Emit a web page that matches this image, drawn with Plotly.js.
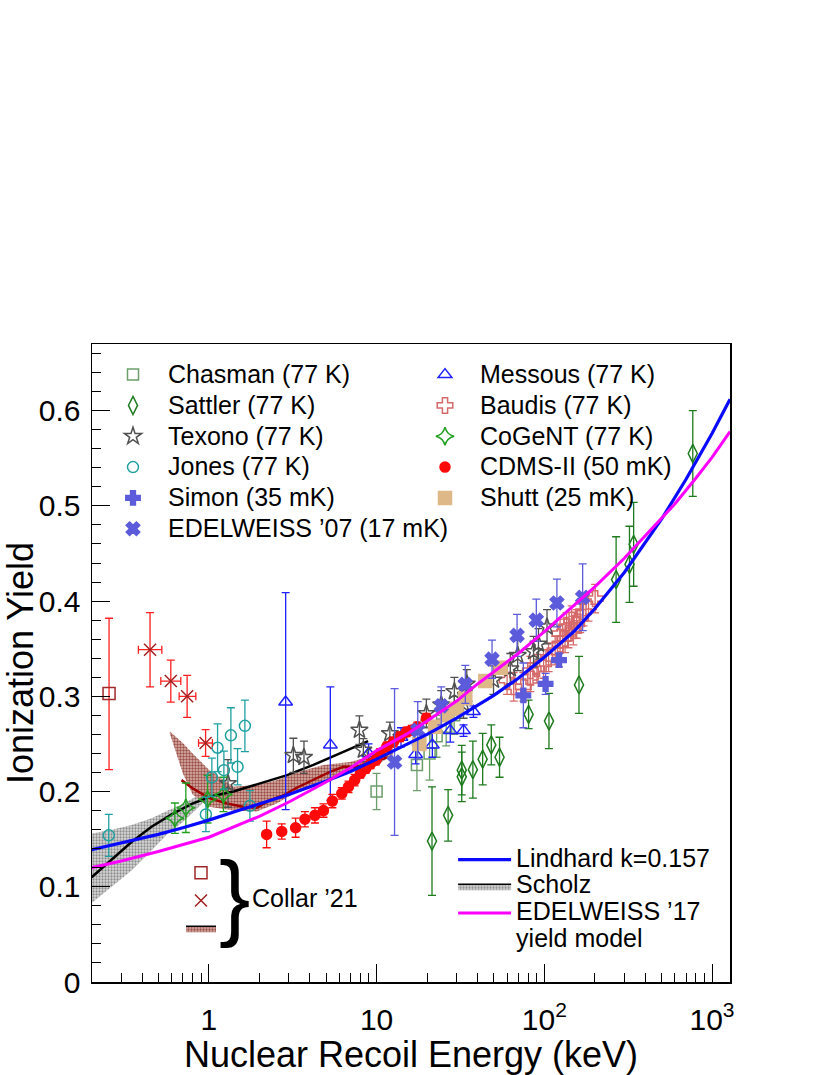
<!DOCTYPE html>
<html>
<head>
<meta charset="utf-8">
<script src="https://cdn.plot.ly/plotly-3.0.1.min.js"></script>
<style>
  html, body { margin: 0; padding: 0; background: #fff; }
  #plot { width: 830px; height: 1075px; }
</style>
</head>
<body>
<div id="plot"></div>
<script>
// values: x = recoil energy (keV), y = ionization yield

var chasman_x = [10.0, 17.4, 20.7, 22.8, 26.0, 29.0]
var chasman_y = [0.200, 0.228, 0.240, 0.258, 0.268, 0.280]
var chasman_err = [0.019, 0.027, 0.028, 0.022, 0.020, 0.020]

var sattler_x = [21.4, 26.7, 32.2, 32.2, 37.5, 42.9, 48.3, 54.1, 80.6, 106.6, 161, 268, 322, 341, 768]
var sattler_y = [0.148, 0.175, 0.2225, 0.2155, 0.223, 0.234, 0.249, 0.236, 0.281, 0.274, 0.312, 0.4226, 0.4386, 0.4596, 0.555]
var sattler_err = [0.057, 0.027, 0.026, 0.026, 0.030, 0.027, 0.021, 0.021, 0.015, 0.029, 0.030, 0.045, 0.040, 0.044, 0.045]

var texono_x = [1.30, 3.19, 3.69, 7.9, 8.34, 12.0, 19.8, 24.3, 29.1, 33.0, 34.5, 49.8, 62.7, 69.4, 86.3, 92.3, 103.8]
var texono_y = [0.2085, 0.238, 0.236, 0.2645, 0.2435, 0.261, 0.282, 0.291, 0.305, 0.292, 0.313, 0.317, 0.329, 0.343, 0.347, 0.355, 0.373]
var texono_err = [0.025, 0.018, 0.017, 0.015, 0.012, 0.012, 0.015, 0.015, 0.015, 0.015, 0.015, 0.015, 0.016, 0.016, 0.016, 0.016, 0.018]

var jones_x = [0.253, 0.96, 1.042, 1.127, 1.229, 1.353, 1.483, 1.64, 1.757]
var jones_y = [0.154, 0.176, 0.215, 0.246, 0.2225, 0.259, 0.226, 0.269, 0.185]
var jones_err = [0.022, 0.018, 0.020, 0.025, 0.020, 0.029, 0.019, 0.027, 0.016]

var simon_x = [75.0, 101.8, 122.4]
var simon_y = [0.301, 0.313, 0.338]
var simon_err = [0.034, 0.011, 0.007]

var edw07_x = [12.8, 17.6, 24.3, 33.8, 48.8, 68.8, 89.6, 118.9, 169.3]
var edw07_y = [0.231, 0.2644, 0.290, 0.3125, 0.339, 0.364, 0.380, 0.398, 0.404]
var edw07_err = [0.077, 0.030, 0.020, 0.020, 0.020, 0.022, 0.022, 0.025, 0.035]

var messous_x = [2.87, 5.30, 8.96, 13.98, 17.1, 21.5, 27.5, 33.0, 37.8]
var messous_y = [0.294, 0.249, 0.240, 0.257, 0.239, 0.249, 0.264, 0.264, 0.284]
var messous_err_up = [0.115, 0.061, 0.010, 0.010, 0.010, 0.013, 0.012, 0.006, 0.006]
var messous_err_down = [0.113, 0.058, 0.010, 0.010, 0.010, 0.013, 0.012, 0.006, 0.006]

var baudis_x = [60.0, 65.7, 75.0, 82.6, 82.6, 90.4, 99.0, 106.1, 116.1, 124.2, 124.2, 133.0, 135.8, 139.2, 145.6, 149.0, 156.0, 163.6, 171.3, 183.5, 201]
var baudis_y = [0.317, 0.310, 0.310, 0.320, 0.327, 0.329, 0.334, 0.341, 0.348, 0.355, 0.366, 0.361, 0.373, 0.366, 0.380, 0.369, 0.376, 0.382, 0.389, 0.394, 0.4026]
var baudis_err = [0.015, 0.015, 0.015, 0.015, 0.015, 0.015, 0.015, 0.015, 0.015, 0.015, 0.015, 0.015, 0.015, 0.015, 0.015, 0.015, 0.015, 0.015, 0.015, 0.015, 0.015]

var cogent_x = [0.627, 0.729, 0.982, 1.222]
var cogent_y = [0.172, 0.183, 0.192, 0.197]
var cogent_err = [0.016, 0.026, 0.025, 0.018]

var cdms_x = [2.21, 2.72, 3.29, 3.74, 4.29, 4.82, 5.45, 6.2, 6.8, 7.4, 8.0, 8.6, 9.2, 9.9, 10.5, 11.5, 12.6, 13.8, 15.1, 16.2, 17.5, 19.8]
var cdms_y = [0.155, 0.158, 0.162, 0.171, 0.175, 0.180, 0.190, 0.198, 0.205, 0.212, 0.219, 0.224, 0.229, 0.233, 0.240, 0.247, 0.252, 0.2575, 0.2626, 0.2644, 0.268, 0.277]
var cdms_err = [0.014, 0.008, 0.010, 0.008, 0.008, 0.007, 0.007, 0.006, 0.006, 0.006, 0.005, 0.005, 0.005, 0.005, 0.005, 0.005, 0.005, 0.005, 0.005, 0.005, 0.005, 0.005]

var shutt_x = [18.0, 22.3, 26.3, 30.0, 33.8, 44.5, 54.9]
var shutt_y = [0.250, 0.268, 0.280, 0.287, 0.298, 0.316, 0.330]

// Collar '21
var collar_sq_x = [0.254]
var collar_sq_y = [0.303]
var collar_sq_up = [0.079]
var collar_sq_down = [0.080]

var collar_x_x = [0.446, 0.593, 0.742, 0.956]
var collar_x_y = [0.349, 0.316, 0.300, 0.251]
var collar_x_yerr = [0.039, 0.022, 0.022, 0.014]
var collar_x_xplus = [0.078, 0.087, 0.094, 0.094]
var collar_x_xminus = [0.066, 0.076, 0.077, 0.088]

var collar_band_x = [0.585, 0.70, 0.80, 1.0, 1.4, 1.93, 2.54, 3.49, 4.82, 6.95, 8.34, 10.5, 12.5]
var collar_band_hi = [0.263, 0.251, 0.240, 0.223, 0.205, 0.207, 0.212, 0.221, 0.228, 0.231, 0.235, 0.240, 0.246]
var collar_band_lo = [0.261, 0.219, 0.197, 0.184, 0.180, 0.179, 0.1875, 0.2015, 0.212, 0.221, 0.224, 0.230, 0.238]

var collar_line_x = [0.687, 0.806, 1.01, 1.28, 1.60, 1.93, 2.31, 2.78, 3.34, 4.19, 5.27, 6.33, 7.61, 9.12, 11.5]
var collar_line_y = [0.212, 0.203, 0.193, 0.1875, 0.184, 0.183, 0.191, 0.196, 0.204, 0.212, 0.2207, 0.226, 0.226, 0.2295, 0.236]

// models
var scholz_x = [0.2, 0.263, 0.346, 0.455, 0.60, 0.79, 1.04, 1.40, 2.0, 2.9, 4.2, 6.1, 8.9]
var scholz_y = [0.110, 0.128, 0.147, 0.163, 0.176, 0.187, 0.195, 0.200, 0.2085, 0.217, 0.228, 0.240, 0.253]
var scholz_band_x = [0.2, 0.263, 0.346, 0.455, 0.57, 0.70, 0.825, 0.95]
var scholz_band_hi = [0.156, 0.160, 0.165, 0.172, 0.180, 0.187, 0.194, 0.198]
var scholz_band_lo = [0.083, 0.100, 0.117, 0.138, 0.156, 0.168, 0.180, 0.190]

var lindhard_x = [0.2, 0.3, 0.5, 0.7, 1, 1.5, 2, 3, 5, 7, 10, 15, 20, 30, 50, 70, 100, 150, 200, 300, 500, 700, 1000, 1280]
var lindhard_y = [0.139, 0.146, 0.155, 0.162, 0.170, 0.180, 0.187, 0.197, 0.211, 0.221, 0.234, 0.249, 0.260, 0.277, 0.301, 0.319, 0.341, 0.368, 0.392, 0.430, 0.486, 0.528, 0.576, 0.612]

var edw17_x = [0.2, 0.3, 0.5, 1, 2, 3, 5, 7, 10, 15, 20, 30, 40, 70, 100, 150, 200, 300, 450, 600, 800, 1000, 1280]
var edw17_y = [0.120, 0.127, 0.137, 0.152, 0.174, 0.189, 0.210, 0.225, 0.243, 0.260, 0.274, 0.295, 0.313, 0.345, 0.368, 0.395, 0.415, 0.445, 0.478, 0.502, 0.529, 0.551, 0.578]

var x_tick_vals = [1, 10, 100, 1000]
var x_tick_text = ['1', '10', '10<sup>2</sup>', '10<sup>3</sup>']
var x_minor_vals = [0.3, 0.4, 0.5, 0.6, 0.7, 0.8, 0.9, 2, 3, 4, 5, 6, 7, 8, 9,
  20, 30, 40, 50, 60, 70, 80, 90, 200, 300, 400, 500, 600, 700, 800, 900]
var y_tick_vals = [0, 0.1, 0.2, 0.3, 0.4, 0.5, 0.6]
var y_tick_text = ['0', '0.1', '0.2', '0.3', '0.4', '0.5', '0.6']

var FONT = 'Liberation Sans, Arial, Helvetica, sans-serif'

// legend rows are packed tighter than plotly would for this text size,
// so the row height comes from the legend font and the glyphs from a span
function big(txt) {
  return '<span style="font-size:25px">' + txt + '</span>'
}

function points(name, x, y, err, symbol, color, size, legend) {
  return {
    type: 'scatter', mode: 'markers', name: name, x: x, y: y,
    legend: legend || 'legend',
    marker: {symbol: symbol, color: color, size: size, line: {color: color, width: 1.5}},
    error_y: err ? {type: 'data', array: err, visible: true, color: color, thickness: 1.3, width: 4}
                 : {visible: false}
  }
}

var dotted_grey = {shape: '.', bgcolor: '#dadada', fgcolor: '#8c8c8c', size: 3, solidity: 0.45}
var dotted_brown = {shape: '.', bgcolor: '#dcb4ae', fgcolor: '#9a5048', size: 3, solidity: 0.5}

var data = []

// bands underneath everything
data.push({x: scholz_band_x, y: scholz_band_lo, mode: 'lines', line: {width: 0}, showlegend: false, hoverinfo: 'skip'})
data.push({x: scholz_band_x, y: scholz_band_hi, mode: 'lines', line: {width: 0}, fill: 'tonexty',
  fillcolor: '#c8c8c8', fillpattern: dotted_grey, showlegend: false, hoverinfo: 'skip'})
data.push({x: collar_band_x, y: collar_band_lo, mode: 'lines', line: {width: 0}, showlegend: false, hoverinfo: 'skip'})
data.push({x: collar_band_x, y: collar_band_hi, mode: 'lines', line: {width: 0}, fill: 'tonexty',
  fillcolor: '#c89890', fillpattern: dotted_brown, showlegend: false, hoverinfo: 'skip'})
data.push({x: scholz_x, y: scholz_y, mode: 'lines', line: {color: 'black', width: 2.5}, showlegend: false})
data.push({x: collar_line_x, y: collar_line_y, mode: 'lines', line: {color: '#a00000', width: 2.5}, showlegend: false})

// measurements, in legend (row-major) order
data.push(points(big('Chasman (77 K)'), chasman_x, chasman_y, chasman_err, 'square-open', '#6b9e6b', 11))
var messous = points(big('Messous (77 K)'), messous_x, messous_y, messous_err_up, 'triangle-up-open', '#1f1fff', 12)
messous.error_y.arrayminus = messous_err_down
data.push(messous)
data.push(points(big('Sattler (77 K)'), sattler_x, sattler_y, sattler_err, 'diamond-tall-open', '#1e7b1e', 13))
data.push(points(big('Baudis (77 K)'), baudis_x, baudis_y, baudis_err, 'cross-open', '#d66a6a', 13))
data.push(points(big('Texono (77 K)'), texono_x, texono_y, texono_err, 'star-open', '#505050', 13))
data.push(points(big('CoGeNT (77 K)'), cogent_x, cogent_y, cogent_err, 'star-diamond-open', '#22a022', 13))
data.push(points(big('Jones (77 K)'), jones_x, jones_y, jones_err, 'circle-open', '#20a0a0', 11))
data.push(points(big('CDMS-II (50 mK)'), cdms_x, cdms_y, cdms_err, 'circle', '#ff0a0a', 10))
data.push(points(big('Simon (35 mK)'), simon_x, simon_y, simon_err, 'cross', '#5b5bdb', 12))
data.push(points(big('Shutt (25 mK)'), shutt_x, shutt_y, null, 'square', '#deb887', 13))
data.push(points(big('EDELWEISS ’07 (17 mK)'), edw07_x, edw07_y, edw07_err, 'x', '#5b5bdb', 12))

// Collar '21
var csq = points(' ', collar_sq_x, collar_sq_y, collar_sq_up, 'square-open', '#a02828', 12, 'legend3')
csq.error_y.arrayminus = collar_sq_down
csq.error_y.color = '#ff2020'
data.push(csq)
var cx = points(' ', collar_x_x, collar_x_y, collar_x_yerr, 'x-thin-open', '#a02020', 12, 'legend3')
cx.error_y.color = '#ff2020'
cx.error_x = {type: 'data', array: collar_x_xplus, arrayminus: collar_x_xminus, visible: true,
  color: '#ff2020', thickness: 1.3, width: 4}
data.push(cx)

// model curves
data.push({x: lindhard_x, y: lindhard_y, mode: 'lines', name: big('Lindhard k=0.157'), legend: 'legend2',
  line: {color: '#0a0aff', width: 3.2}})
data.push({x: [null], y: [null], mode: 'lines', name: big('Scholz'), legend: 'legend2', fill: 'toself',
  fillcolor: '#c8c8c8', fillpattern: dotted_grey, line: {color: 'black', width: 1.5}})
data.push({x: edw17_x, y: edw17_y, mode: 'lines', name: big('EDELWEISS ’17'),
  legend: 'legend2', line: {color: '#ff00ff', width: 3}})
// second line of the EDELWEISS '17 label, as its own legend row with no symbol
data.push({x: [null], y: [null], mode: 'lines', name: big('yield model'), legend: 'legend2',
  line: {width: 0, color: 'rgba(0,0,0,0)'}})
data.push({x: [null], y: [null], mode: 'lines', name: ' ', legend: 'legend3', fill: 'toself',
  fillcolor: '#c89890', fillpattern: dotted_brown, line: {color: 'black', width: 1.5}})

var layout = {
  width: 830, height: 1075,
  margin: {l: 92, r: 100, t: 344, b: 93},
  paper_bgcolor: 'white', plot_bgcolor: 'white',
  font: {family: FONT, color: 'black'},
  showlegend: true,
  xaxis: {
    type: 'log', range: [Math.log10(0.201), Math.log10(1280)],
    tickvals: x_tick_vals, ticktext: x_tick_text,
    ticks: 'inside', ticklen: 18, tickwidth: 1, tickcolor: 'black',
    minor: {tickvals: x_minor_vals, ticks: 'inside', ticklen: 9, tickcolor: 'black', tickwidth: 1},
    showline: true, mirror: true, linecolor: 'black', linewidth: 1.5,
    showgrid: false, zeroline: false,
    tickfont: {family: FONT, size: 30}, ticklabelstandoff: 10,
    title: {text: 'Nuclear Recoil Energy (keV)', font: {family: FONT, size: 36}, standoff: 2}
  },
  yaxis: {
    range: [0, 0.67],
    tickvals: y_tick_vals, ticktext: y_tick_text,
    ticks: 'inside', ticklen: 18, tickwidth: 1, tickcolor: 'black',
    minor: {dtick: 0.02, ticks: 'inside', ticklen: 9, tickcolor: 'black', tickwidth: 1},
    showline: true, mirror: true, linecolor: 'black', linewidth: 1.5,
    showgrid: false, zeroline: false,
    tickfont: {family: FONT, size: 30}, ticklabelstandoff: 4,
    title: {text: 'Ionization Yield', font: {family: FONT, size: 36}, standoff: 14}
  },
  legend: {
    orientation: 'h', x: 0.0094, y: 0.984, xanchor: 'left', yanchor: 'top',
    entrywidth: 237, entrywidthmode: 'pixels', itemwidth: 60,
    font: {family: FONT, size: 21.4, color: 'black'}, bgcolor: 'rgba(0,0,0,0)', traceorder: 'normal'
  },
  legend2: {
    x: 0.566, y: 0.2205, xanchor: 'left', yanchor: 'top', itemwidth: 53,
    font: {family: FONT, size: 18.2, color: 'black'}, bgcolor: 'rgba(0,0,0,0)', traceorder: 'normal'
  },
  legend3: {
    x: 0.1395, y: 0.2006, xanchor: 'left', yanchor: 'top', itemwidth: 30,
    font: {family: FONT, size: 19}, bgcolor: 'rgba(0,0,0,0)', traceorder: 'normal'
  },
  annotations: [
    {xref: 'paper', yref: 'paper', x: 0.2230, y: 0.1350, text: '}', showarrow: false,
      xanchor: 'center', yanchor: 'middle', font: {family: FONT, size: 94, color: 'black'}},
    {xref: 'paper', yref: 'paper', x: 0.2476, y: 0.1317, text: 'Collar ’21', showarrow: false,
      xanchor: 'left', yanchor: 'middle', font: {family: FONT, size: 25, color: 'black'}}
  ]
}

Plotly.newPlot('plot', data, layout, {displayModeBar: false, staticPlot: true})
</script>
</body>
</html>
